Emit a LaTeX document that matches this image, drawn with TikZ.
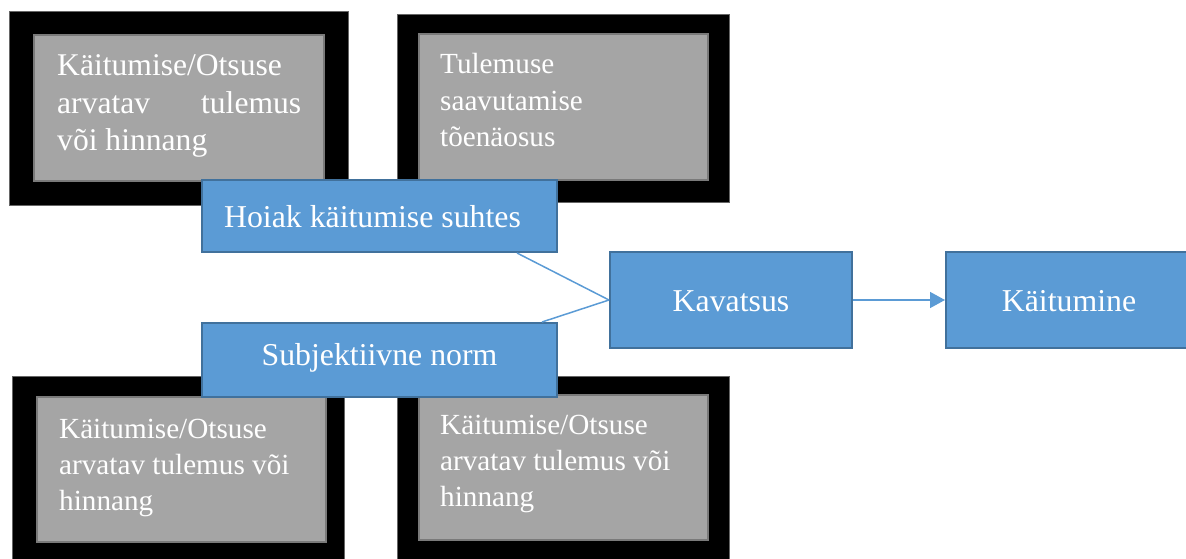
\documentclass[tikz,border=0pt]{standalone}
\usepackage{fontspec}
\setmainfont{Liberation Serif}
\newfontfamily\tnr{Liberation Serif}
\usetikzlibrary{arrows.meta}
\definecolor{bluebg}{HTML}{5B9BD5}
\definecolor{blueedge}{HTML}{41719C}
\definecolor{graybg}{HTML}{A5A5A5}
\definecolor{grayedge}{HTML}{7A7A7A}
\tikzset{
  blackbox/.style={rectangle, fill=black, draw=black!60, line width=0.8pt, inner sep=0pt},
  graybox/.style={rectangle, fill=graybg, draw=grayedge, line width=2pt, inner sep=0pt},
  bluebox/.style={rectangle, fill=bluebg, draw=blueedge, line width=2pt, text=white,
    font=\tnr\fontsize{31.8}{38}\selectfont, text height=22pt, text depth=0pt, inner sep=0pt},
  graytext/.style={text=white, anchor=base west, inner sep=0pt},
  conn/.style={draw=bluebg, line width=1.5pt},
}
\begin{document}
\begin{tikzpicture}[x=1pt,y=-1pt]
\useasboundingbox (0,0) rectangle (1186,559);
% black frames
\node[blackbox, minimum width=338.5pt, minimum height=194pt] (btl) at (178.75,108) {};
\node[blackbox, minimum width=332pt, minimum height=188pt] (btr) at (563,108) {};
\node[blackbox, minimum width=331.3pt, minimum height=194pt] (bbl) at (178.35,473) {};
\node[blackbox, minimum width=332pt, minimum height=188pt] (bbr) at (563,470) {};
% gray boxes
\node[graybox, minimum width=290pt, minimum height=146pt] (gtl) at (179,108) {};
\node[graybox, minimum width=289pt, minimum height=146pt] (gtr) at (563.5,107) {};
\node[graybox, minimum width=289pt, minimum height=145pt] (gbl) at (181.5,469.5) {};
\node[graybox, minimum width=289pt, minimum height=145pt] (gbr) at (563.5,467.5) {};
% gray box texts
\node[graytext, font=\tnr\fontsize{31.6}{37.5}\selectfont] (ttl) at (57,76)
  {\vtop{\hbox{Käitumise/Otsuse}\hbox to 244pt{arvatav\hfill tulemus}\hbox{või hinnang}}};
\node[graytext, font=\tnr\fontsize{29.2}{36.5}\selectfont] (ttr) at (440,74)
  {\vtop{\hbox{Tulemuse}\hbox{saavutamise}\hbox{tõenäosus}}};
\node[graytext, font=\tnr\fontsize{29.2}{36}\selectfont] (tbl) at (59,438)
  {\vtop{\hbox{Käitumise/Otsuse}\hbox{arvatav tulemus või}\hbox{hinnang}}};
\node[graytext, font=\tnr\fontsize{29.2}{36}\selectfont] (tbr) at (440,434)
  {\vtop{\hbox{Käitumise/Otsuse}\hbox{arvatav tulemus või}\hbox{hinnang}}};
% blue boxes
\node[bluebox, minimum width=355pt, minimum height=72pt] (hoiak) at (379.5,216) {Hoiak käitumise suhtes\kern14pt};
\node[bluebox, minimum width=355pt, minimum height=74pt, text depth=11pt, text height=21pt] (subj) at (379.5,360) {Subjektiivne norm};
\node[bluebox, minimum width=242pt, minimum height=96pt] (kav) at (731,300) {Kavatsus};
\node[bluebox, minimum width=246pt, minimum height=96pt] (kai) at (1069,300) {Käitumine};
% connectors
\draw[conn] ([xshift=137.5pt]hoiak.south) -- (kav.west);
\draw[conn] ([xshift=162.5pt]subj.north) -- (kav.west);
\draw[conn, -{Triangle[length=15pt,width=16pt]}] (kav.east) -- (kai.west);
\end{tikzpicture}
\end{document}
